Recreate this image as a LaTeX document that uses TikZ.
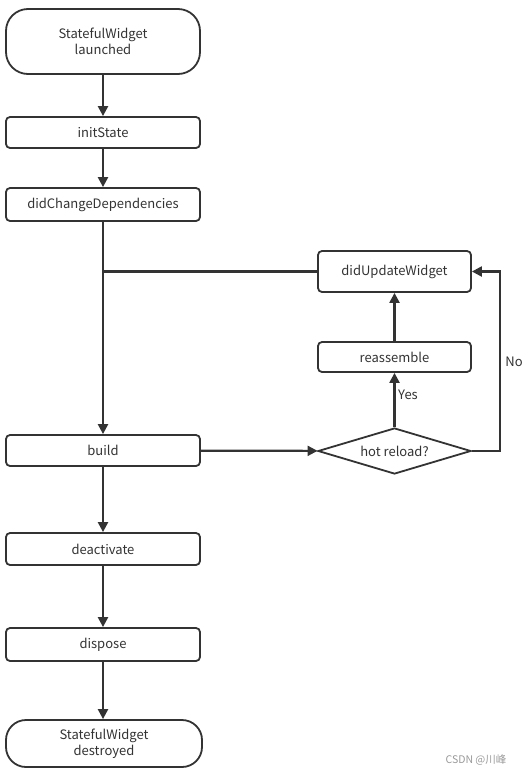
\documentclass[tikz,border=0pt]{standalone}
\usepackage{fontspec}
\setmainfont{Noto Sans CJK SC}
\usetikzlibrary{arrows.meta,shapes.geometric}
\definecolor{ln}{HTML}{333333}
\tikzset{
  box/.style={draw=ln,line width=1.8pt,rounded corners=4pt,minimum width=194pt,inner sep=0pt,align=center,text=ln,font=\fontsize{13}{16}\selectfont},
  term/.style={box,rounded corners=22pt},
  dia/.style={draw=ln,line width=1.8pt,shape=diamond,aspect=3.33,minimum width=153pt,minimum height=46pt,inner sep=0pt,text=ln,font=\fontsize{13}{16}\selectfont},
  conn/.style={draw=ln,line width=2.2pt,-{Triangle[length=10pt,width=10pt]}},
  plain/.style={draw=ln,line width=2.2pt},
  lbl/.style={text=ln,font=\fontsize{13}{16}\selectfont,inner sep=0pt}
}
\begin{document}
\begin{tikzpicture}[x=1pt,y=-1pt]
\useasboundingbox (0,0) rectangle (527,777);
\node[term,minimum height=65pt] (launch) at (103,41.5) {StatefulWidget\\launched};
\node[box,minimum height=31pt] (init) at (103,132.5) {initState};
\node[box,minimum height=33pt] (dcd) at (103,204.5) {didChangeDependencies};
\node[box,minimum width=153pt,minimum height=41pt] (duw) at (394.5,271.5) {didUpdateWidget};
\node[box,minimum width=153pt,minimum height=30pt] (re) at (394.5,357) {reassemble};
\node[box,minimum height=31pt] (build) at (103,450.5) {build};
\node[dia] (hot) at (394.5,451) {hot reload?};
\node[box,minimum height=32pt] (deact) at (103,549) {deactivate};
\node[box,minimum height=33pt] (disp) at (103,644.5) {dispose};
\node[term,minimum width=196pt,minimum height=47pt,rounded corners=20pt] (dest) at (104,743.5) {StatefulWidget\\destroyed};
\coordinate (join) at (103,271.5);
\coordinate (rt) at (500,451);
\coordinate (rb) at (500,271.5);
\draw[conn] (launch) -- (init);
\draw[conn] (init) -- (dcd);
\draw[conn] (dcd) -- (build);
\draw[plain] (duw.west) -- (join);
\draw[conn] (build) -- (hot);
\draw[conn] (hot) -- (re);
\draw[conn] (re) -- (duw);
\draw[conn] (hot.east) -- (rt) -- (rb) -- (duw.east);
\draw[conn] (build) -- (deact);
\draw[conn] (deact) -- (disp);
\draw[conn] (disp.south) -- (dest.north -| disp.south);
\node[lbl] (yes) at (408,395) {Yes};
\node[lbl] (no) at (514,362) {No};
\node[text=gray!80,font=\fontsize{10.5}{12}\selectfont,inner sep=0pt] (wm) at (476,760) {CSDN @川峰};
\end{tikzpicture}
\end{document}
